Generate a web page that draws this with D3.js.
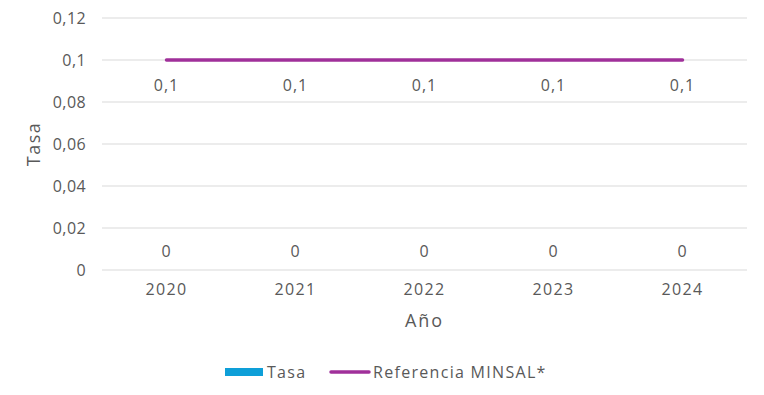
<!DOCTYPE html>
<html>
<head>
<meta charset="utf-8">
<script src="https://cdn.jsdelivr.net/npm/d3@7"></script>
<style>
  body { margin: 0; background: #fff; }
  text { font-family: "Open Sans", sans-serif; fill: #595959; letter-spacing: 1px; }
</style>
</head>
<body>
<svg width="764" height="395"></svg>
<script>
var years = ["2020", "2021", "2022", "2023", "2024"];
var tasa = [0, 0, 0, 0, 0];
var referencia = [0.1, 0.1, 0.1, 0.1, 0.1];
var yTicks = [0, 0.02, 0.04, 0.06, 0.08, 0.1, 0.12];

var svg = d3.select("svg");
var margin = { left: 102, right: 17, top: 18, bottom: 125 };
var width = 764 - margin.left - margin.right;
var height = 395 - margin.top - margin.bottom;

var loc = d3.formatLocale({ decimal: ",", thousands: ".", grouping: [3], currency: ["", ""] });
var fmt = function (v) { return loc.format("~g")(+v.toFixed(4)); };

var x = d3.scaleBand().domain(years).range([0, width]);
var y = d3.scaleLinear().domain([0, 0.12]).range([height, 0]);

var g = svg.append("g").attr("transform", "translate(" + margin.left + "," + margin.top + ")");

// gridlines
g.selectAll("line.grid")
  .data(yTicks)
  .enter().append("line")
  .attr("class", "grid")
  .attr("x1", 0).attr("x2", width)
  .attr("y1", d => y(d)).attr("y2", d => y(d))
  .style("stroke", "#d9d9d9")
  .style("stroke-width", 1);

// y axis labels
var yAxis = d3.axisLeft(y).tickValues(yTicks).tickFormat(fmt).tickSize(0).tickPadding(16);
var ya = g.append("g").call(yAxis);
ya.select(".domain").remove();
ya.selectAll("text").style("font-size", "16px").style("fill", "#595959")
  .style("font-family", "Open Sans, sans-serif").style("letter-spacing", "0.4px");

// x axis labels
var xAxis = d3.axisBottom(x).tickSize(0).tickPadding(14);
var xa = g.append("g").attr("transform", "translate(0," + height + ")").call(xAxis);
xa.select(".domain").remove();
xa.selectAll("text").style("font-size", "16px").style("fill", "#595959")
  .style("font-family", "Open Sans, sans-serif").style("letter-spacing", "1.3px");

// bars (Tasa)
var bw = x.bandwidth() * 0.5;
g.selectAll("rect.bar")
  .data(tasa)
  .enter().append("rect")
  .attr("class", "bar")
  .attr("x", (d, i) => x(years[i]) + x.bandwidth() / 2 - bw / 2)
  .attr("y", d => y(d))
  .attr("width", bw)
  .attr("height", d => height - y(d))
  .style("fill", "#0e9fd8");

g.selectAll("text.barlabel")
  .data(tasa)
  .enter().append("text")
  .attr("class", "barlabel")
  .attr("x", (d, i) => x(years[i]) + x.bandwidth() / 2)
  .attr("y", d => y(d) - 13)
  .attr("text-anchor", "middle")
  .style("font-size", "16px")
  .text(d => fmt(d));

// reference line
var line = d3.line()
  .x((d, i) => x(years[i]) + x.bandwidth() / 2)
  .y(d => y(d));
g.append("path")
  .datum(referencia)
  .attr("d", line)
  .style("fill", "none")
  .style("stroke", "#a0309a")
  .style("stroke-width", 3.5)
  .style("stroke-linecap", "round");

g.selectAll("text.reflabel")
  .data(referencia)
  .enter().append("text")
  .attr("class", "reflabel")
  .attr("x", (d, i) => x(years[i]) + x.bandwidth() / 2)
  .attr("y", d => y(d) + 31)
  .attr("text-anchor", "middle")
  .style("font-size", "16px")
  .text(d => fmt(d));

// axis titles
svg.append("text")
  .attr("x", margin.left + width / 2)
  .attr("y", 327)
  .attr("text-anchor", "middle")
  .style("font-size", "18px")
  .style("letter-spacing", "2px")
  .text("Año");

svg.append("text")
  .attr("transform", "translate(40," + (margin.top + height / 2) + ") rotate(-90)")
  .attr("text-anchor", "middle")
  .style("font-size", "18px")
  .style("letter-spacing", "1.5px")
  .text("Tasa");

// legend
var leg = svg.append("g").attr("transform", "translate(225,372)");
leg.append("rect").attr("x", 0).attr("y", -4).attr("width", 38).attr("height", 8).style("fill", "#0e9fd8");
leg.append("text").attr("x", 42).attr("y", 6).style("font-size", "16px").style("letter-spacing", "1.3px").text("Tasa");
leg.append("line").attr("x1", 106).attr("x2", 144).attr("y1", 0).attr("y2", 0)
  .style("stroke", "#a0309a").style("stroke-width", 3.5).style("stroke-linecap", "round");
leg.append("text").attr("x", 148).attr("y", 6).style("font-size", "16px").style("letter-spacing", "1.3px").text("Referencia MINSAL*");
</script>
</body>
</html>
